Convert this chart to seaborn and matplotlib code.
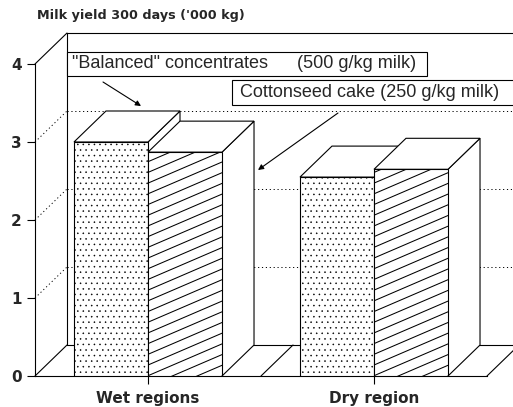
import numpy as np
import pandas as pd
import matplotlib
matplotlib.use("Agg")
import matplotlib.pyplot as plt
from matplotlib.patches import Polygon, Rectangle
import seaborn as sns

# =========================
# DATA
# =========================

regions = ["Wet regions", "Dry region"]
feeds = ['"Balanced" concentrates', "Cottonseed cake"]
rates = ["(500 g/kg milk)", "(250 g/kg milk)"]
balanced = [3.0, 2.55]
cottonseed = [2.87, 2.65]
y_ticks = [0, 1, 2, 3, 4]

df = pd.DataFrame({
    "region": regions * 2,
    "feed": [feeds[0]] * 2 + [feeds[1]] * 2,
    "yield": balanced + cottonseed,
})

# =========================
# STYLE / GEOMETRY
# =========================

sns.set_style("white")
plt.rcParams["hatch.linewidth"] = 0.35

PX_X = 226.0   # pixels per category
PX_Y = 78.0    # pixels per y unit
DX = 32 / PX_X  # depth of the fake 3d box
DY = 31 / PX_Y
LW = 0.8


def to_data(px, py):
    return (px - 148) / PX_X, (376 - py) / PX_Y


fig = plt.figure(figsize=(5.13, 4.07), dpi=100)
ax = fig.add_axes([35 / 513, 31 / 407, 478 / 513, 4.4 * PX_Y / 407])

sns.barplot(
    data=df, x="region", y="yield", hue="feed",
    palette=["white", "white"], saturation=1,
    width=0.655, edgecolor="black", linewidth=LW,
    errorbar=None, legend=False, ax=ax
)

ax.set_xlim(-0.5, -0.5 + 478 / PX_X)
ax.set_ylim(0, 4.4)

# =========================
# BACK WALL, FLOOR, GRID
# =========================

bx = -0.5 + DX
right = ax.get_xlim()[1] + 0.2
line_kw = dict(color="black", lw=LW, zorder=1, clip_on=False)
dot_kw = dict(color="black", lw=0.7, ls=(0, (1.2, 2.8)), zorder=1, clip_on=False)

ax.plot([bx, bx], [DY, 4 + DY], **line_kw)
ax.plot([bx, right], [4 + DY, 4 + DY], **line_kw)
ax.plot([bx, right], [DY, DY], **line_kw)
ax.plot([-0.5, bx], [4, 4 + DY], **line_kw)

for xe in np.arange(len(regions) + 1) - 0.5:
    ax.plot([xe, xe + DX], [0, DY], **line_kw)

for k in y_ticks[1:-1]:
    ax.plot([bx, right], [k + DY, k + DY], **dot_kw)
    ax.plot([-0.5, bx], [k, k + DY], **dot_kw)

# =========================
# 3D BARS
# =========================

for p in ax.containers[0]:
    p.set_hatch("...")
    if hasattr(p, "set_hatchcolor"):
        p.set_hatchcolor("#777777")

bars = sorted(ax.patches, key=lambda b: b.get_x())
for i, p in enumerate(bars):
    x0, w, h = p.get_x(), p.get_width(), p.get_height()
    x1 = x0 + w
    p.set_zorder(3 + 2 * i)
    side = Polygon([(x1, 0), (x1 + DX, DY), (x1 + DX, h + DY), (x1, h)],
                   closed=True, fc="white", ec="black", lw=LW, zorder=2 + 2 * i)
    top = Polygon([(x0, h), (x0 + DX, h + DY), (x1 + DX, h + DY), (x1, h)],
                  closed=True, fc="white", ec="black", lw=LW, zorder=2 + 2 * i)
    ax.add_patch(side)
    ax.add_patch(top)

# slanted hatching for cottonseed bars
slope = 0.43 * PX_X / PX_Y
step = 10.7 / PX_Y
for p in ax.containers[1]:
    x0, w, h = p.get_x(), p.get_width(), p.get_height()
    for c in np.arange(-slope * w, h, step):
        ln, = ax.plot([x0, x0 + w], [c, c + slope * w], color="black",
                      lw=0.75, zorder=p.get_zorder() + 0.5)
        ln.set_clip_path(p)

# =========================
# AXES
# =========================

for s in ["top", "right"]:
    ax.spines[s].set_visible(False)
for s in ["left", "bottom"]:
    ax.spines[s].set_color("black")
    ax.spines[s].set_linewidth(LW)
ax.spines["left"].set_bounds(0, 4)
ax.spines["bottom"].set_bounds(-0.5, 1.5)

ax.set_yticks(y_ticks)
ax.set_yticklabels([str(t) for t in y_ticks], fontweight="bold", fontsize=11)
ax.tick_params(axis="both", length=5.5, width=LW, color="black",
               direction="out", left=True, bottom=True)
ax.tick_params(axis="y", pad=4)
ax.tick_params(axis="x", pad=5)
for t in ax.get_xticklabels():
    t.set_fontweight("bold")
    t.set_fontsize(11)
ax.set_xlabel("")
ax.set_ylabel("")

fig.text(37 / 513, 1 - 15 / 407, "Milk yield 300 days ('000 kg)",
         fontweight="bold", fontsize=9.2, ha="left", va="center")

# =========================
# LEGEND BOXES + ARROWS
# =========================

box_kw = dict(fc="white", ec="black", lw=LW, zorder=20, clip_on=False)
ax.add_patch(Rectangle(to_data(67, 76), (427 - 67) / PX_X, 24 / PX_Y, **box_kw))
ax.add_patch(Rectangle(to_data(232, 105), (520 - 232) / PX_X, 25 / PX_Y, **box_kw))

txt_kw = dict(fontsize=13, family="Liberation Sans", va="center", zorder=21)
ax.text(*to_data(72, 64), feeds[0], **txt_kw)
ax.text(*to_data(297, 64), rates[0], **txt_kw)
ax.text(*to_data(240, 93), feeds[1] + " " + rates[1], **txt_kw)

arrow_kw = dict(arrowstyle="-|>", color="black", lw=LW, mutation_scale=8,
                shrinkA=0, shrinkB=0)
ax.annotate("", xy=to_data(141, 106), xytext=to_data(103, 82),
            arrowprops=arrow_kw, annotation_clip=False, zorder=21)
ax.annotate("", xy=to_data(258, 170), xytext=to_data(338, 113),
            arrowprops=arrow_kw, annotation_clip=False, zorder=21)

fig.savefig("out.png", dpi=100)
